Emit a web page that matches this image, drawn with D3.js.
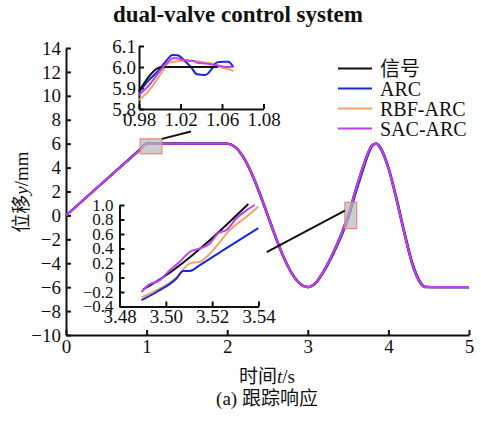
<!DOCTYPE html>
<html>
<head>
<meta charset="utf-8">
<script src="https://cdn.jsdelivr.net/npm/d3@7"></script>
<style>
body{margin:0;background:#fff;}
text{font-family:'Liberation Serif','Times New Roman','Noto Sans CJK SC',serif;fill:#111;}
</style>
</head>
<body>
<script>
// data
let seriesNames = ['信号','ARC','RBF-ARC','SAC-ARC'];
let seriesColors = ['#111111','#1428e0','#f2a468','#c23ef0'];

let tMain   = [0,0.5,0.9,1.0,1.5,2.0,2.1,2.2,2.3,2.4,2.5,2.6,2.7,2.8,2.9,3.0,3.1,3.2,3.3,3.4,3.5,3.6,3.7,3.75,3.8,3.85,3.9,4.0,4.1,4.2,4.3,4.4,4.45,4.6,5.0];
let sigMain = [0,3,5.4,6,6,6,5.71,4.85,3.53,1.85,0,-1.85,-3.53,-4.85,-5.71,-6,-5.6,-4.6,-3.3,-1.8,0,2.3,4.4,5.3,5.9,6.0,5.6,3.9,1.3,-1.6,-4.2,-5.7,-6,-6,-6];
let arcMain = [0,3,5.4,6,6,6,5.72,4.9,3.6,1.95,0.1,-1.75,-3.45,-4.8,-5.68,-6,-5.65,-4.7,-3.45,-2.0,-0.3,2.0,4.1,5.1,5.8,6.0,5.7,4.05,1.5,-1.4,-4.0,-5.6,-5.95,-6,-6];
let rbfMain = [0,3,5.38,5.97,6,6,5.73,4.92,3.62,1.98,0.12,-1.72,-3.42,-4.78,-5.67,-5.99,-5.63,-4.66,-3.4,-1.93,-0.15,2.15,4.25,5.2,5.85,6.0,5.68,4.02,1.45,-1.45,-4.05,-5.62,-5.96,-6,-6];
let sacMain = [0,3,5.39,5.98,6,6,5.72,4.88,3.57,1.9,0.05,-1.8,-3.5,-4.83,-5.7,-6,-5.61,-4.62,-3.33,-1.85,-0.05,2.25,4.35,5.27,5.88,6.0,5.63,3.95,1.35,-1.55,-4.15,-5.68,-5.98,-6,-6];

// inset 1 (around t = 1)
let i1Sig = [[0.98,5.885],[1.002,6.0],[1.056,6.0]];
let i1Arc = [[0.98,5.88],[0.99,5.94],[1.0,5.99],[1.008,6.04],[1.012,6.057],[1.017,6.056],[1.024,6.03],[1.03,6.0],[1.036,5.965],[1.044,5.962],[1.05,5.99],[1.055,6.022],[1.061,6.025],[1.066,6.025],[1.071,6.0]];
let i1Rbf = [[0.98,5.843],[0.99,5.89],[0.997,5.938],[1.004,5.99],[1.008,6.017],[1.013,6.025],[1.025,6.03],[1.035,6.028],[1.042,6.022],[1.05,6.017],[1.058,6.0],[1.066,5.99],[1.071,5.98]];
let i1Sac = [[0.98,5.867],[0.99,5.915],[0.997,5.96],[1.005,6.01],[1.009,6.03],[1.013,6.043],[1.018,6.04],[1.023,6.033],[1.032,6.03],[1.036,6.02],[1.045,6.017],[1.055,6.008],[1.064,6.0],[1.071,6.0]];
let i1TickVals = [0.98,1.02,1.06,1.10];
let i1TickText = ['0.98','1.02','1.06','1.08'];
let i1YTicks = [5.8,5.9,6.0,6.1];

// inset 2 (around t = 3.5)
let i2Sig = [[3.4902,-0.165],[3.4981,-0.013],[3.5356,1.015]];
let i2Arc = [[3.4895,-0.313],[3.496,-0.2],[3.5046,-0.013],[3.5075,0.088],[3.5104,0.09],[3.5147,0.171],[3.5248,0.378],[3.5399,0.68]];
let i2Rbf = [[3.4895,-0.275],[3.496,-0.175],[3.5046,0.0],[3.5104,0.195],[3.5147,0.217],[3.5204,0.378],[3.5276,0.655],[3.5349,0.84],[3.5399,0.978]];
let i2Sac = [[3.4895,-0.2],[3.4924,-0.105],[3.4974,-0.036],[3.5017,0.1],[3.506,0.217],[3.5104,0.355],[3.5147,0.4],[3.519,0.47],[3.5226,0.61],[3.5262,0.655],[3.5305,0.817],[3.5349,0.93],[3.5384,1.0]];
let i2XTicks = [3.48,3.50,3.52,3.54];
let i2YTicks = [1.0,0.8,0.6,0.4,0.2,0,-0.2,-0.4];
let i2YText = ['1.0','0.8','0.6','0.4','0.2','0','−0.2','−0.4'];

// zoom boxes and leader lines, in main-axis units
let box1 = {t0:0.92,t1:1.19,v0:5.15,v1:6.4};
let box2 = {t0:3.46,t1:3.607,v0:-1.1,v1:1.1};
let lead1 = [[1.19,6.4],[1.55,7.02]];
let lead2 = [[2.49,-3.07],[3.46,0.4]];

let width = 481, height = 421;
let svg = d3.select('body').append('svg').attr('width',width).attr('height',height);

// title
svg.append('text').attr('x',238).attr('y',22).attr('text-anchor','middle')
  .style('font-size','23px').style('font-weight','bold').text('dual-valve control system');

// main scales
let x = d3.scaleLinear().domain([0,5]).range([66,469]);
let y = d3.scaleLinear().domain([-10,14]).range([335,48]);

let axisStyle = (g,fs)=>{
  g.selectAll('.domain').attr('stroke','#111').attr('stroke-width',2);
  g.selectAll('.tick line').attr('stroke','#111').attr('stroke-width',2);
  g.selectAll('.tick text').style('font-size',fs).attr('fill','#111').style('font-family',"'Liberation Serif','Times New Roman',serif");
};

svg.append('g').attr('transform','translate(0,335)')
  .call(d3.axisBottom(x).tickValues([0,1,2,3,4,5]).tickSize(-5).tickSizeOuter(0).tickPadding(5).tickFormat(d3.format('d')))
  .call(g=>axisStyle(g,'19px'));
svg.append('g').attr('transform','translate(66,0)')
  .call(d3.axisLeft(y).tickValues(d3.range(-10,15,2)).tickSize(-5).tickSizeOuter(0).tickPadding(5))
  .call(g=>axisStyle(g,'19px'));

// axis labels
let yl = svg.append('text').attr('transform','translate(28,192) rotate(-90)').attr('text-anchor','middle').style('font-size','19px');
yl.append('tspan').text('位移').style('font-family',"'Noto Sans CJK SC',serif");
yl.append('tspan').text('y').style('font-style','italic');
yl.append('tspan').text('/mm');
let xl = svg.append('text').attr('x',267).attr('y',383).attr('text-anchor','middle').style('font-size','19px');
xl.append('tspan').text('时间').style('font-family',"'Noto Sans CJK SC',serif");
xl.append('tspan').text('t').style('font-style','italic');
xl.append('tspan').text('/s');
svg.append('text').attr('x',267).attr('y',405).attr('text-anchor','middle').style('font-size','19px').text('(a) 跟踪响应');

// main curves
let mainSeries = [sigMain,arcMain,rbfMain,sacMain];
let lineMain = d3.line().x(d=>x(d[0])).y(d=>y(d[1])).curve(d3.curveMonotoneX);
let order = [2,1,0,3];
order.forEach(k=>{
  svg.append('path').datum(tMain.map((t,i)=>[t,mainSeries[k][i]]))
    .attr('d',lineMain).attr('fill','none').attr('stroke',seriesColors[k]).attr('stroke-width',2.2);
});

// zoom boxes
[box1,box2].forEach(b=>{
  svg.append('rect').attr('x',x(b.t0)).attr('y',y(b.v1)).attr('width',x(b.t1)-x(b.t0)).attr('height',y(b.v0)-y(b.v1))
    .attr('fill','#b8b8b8').attr('fill-opacity',0.7).attr('stroke','#e08888').attr('stroke-width',1.2);
});
[lead1,lead2].forEach(l=>{
  svg.append('line').attr('x1',x(l[0][0])).attr('y1',y(l[0][1])).attr('x2',x(l[1][0])).attr('y2',y(l[1][1]))
    .attr('stroke','#111').attr('stroke-width',2);
});

// inset 1
let x1 = d3.scaleLinear().domain([0.98,1.10]).range([139,263.5]);
let y1 = d3.scaleLinear().domain([5.8,6.1]).range([109,46]);
let ins1 = svg.append('g');
ins1.append('g').attr('transform','translate(0,109)')
  .call(d3.axisBottom(x1).tickValues(i1TickVals).tickSize(-5).tickSizeOuter(0).tickPadding(3).tickFormat((d,i)=>i1TickText[i]))
  .call(g=>axisStyle(g,'19px'));
ins1.append('g').attr('transform','translate(139,0)')
  .call(d3.axisLeft(y1).tickValues(i1YTicks).tickSize(-5).tickSizeOuter(0).tickPadding(3).tickFormat(d3.format('.1f')))
  .call(g=>axisStyle(g,'19px'));
let line1 = d3.line().x(d=>x1(d[0])).y(d=>y1(d[1])).curve(d3.curveMonotoneX);
[i1Rbf,i1Arc,i1Sig,i1Sac].forEach((s,j)=>{
  let k = [2,1,0,3][j];
  ins1.append('path').datum(s).attr('d',line1).attr('fill','none').attr('stroke',seriesColors[k]).attr('stroke-width',2);
});

// inset 2
let x2 = d3.scaleLinear().domain([3.48,3.54]).range([119.5,258.5]);
let y2 = d3.scaleLinear().domain([-0.4,1.0]).range([306.5,205]);
let ins2 = svg.append('g');
ins2.append('g').attr('transform','translate(0,306.5)')
  .call(d3.axisBottom(x2).tickValues(i2XTicks).tickSize(-5).tickSizeOuter(0).tickPadding(3).tickFormat(d3.format('.2f')))
  .call(g=>axisStyle(g,'19px'));
ins2.append('g').attr('transform','translate(119.5,0)')
  .call(d3.axisLeft(y2).tickValues(i2YTicks).tickSize(-5).tickSizeOuter(0).tickPadding(6).tickFormat((d,i)=>i2YText[i]))
  .call(g=>axisStyle(g,'17px'));
let line2 = d3.line().x(d=>x2(d[0])).y(d=>y2(d[1])).curve(d3.curveMonotoneX);
[i2Rbf,i2Arc,i2Sig,i2Sac].forEach((s,j)=>{
  let k = [2,1,0,3][j];
  ins2.append('path').datum(s).attr('d',line2).attr('fill','none').attr('stroke',seriesColors[k]).attr('stroke-width',2);
});

// legend
let leg = svg.append('g');
seriesNames.forEach((n,i)=>{
  let ly = 68.5 + i*20;
  leg.append('line').attr('x1',338).attr('x2',372).attr('y1',ly).attr('y2',ly).attr('stroke',seriesColors[i]).attr('stroke-width',2.2);
  leg.append('text').attr('x',380).attr('y',ly).attr('dy','0.35em').style('font-size','20px').text(n);
});
</script>
</body>
</html>
